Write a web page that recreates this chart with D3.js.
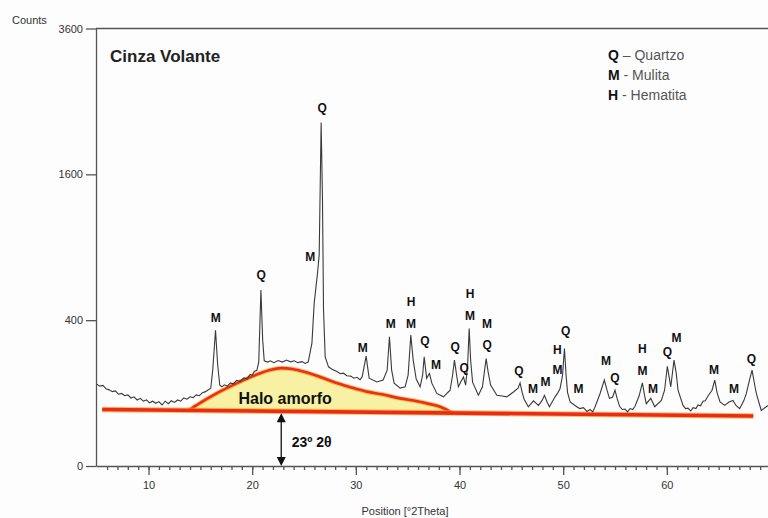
<!DOCTYPE html>
<html>
<head>
<meta charset="utf-8">
<script src="https://cdn.jsdelivr.net/npm/d3@7"></script>
<style>
  body { margin: 0; background: #fdfdfd; }
  svg { display: block; font-family: "Liberation Sans", Arial, sans-serif; }
</style>
</head>
<body>
<div id="chart"></div>
<script>
// Diffractogram: 2theta (deg) and counts
const theta = [
  5.0, 5.3, 5.6, 5.9, 6.2, 6.5, 6.8, 7.1, 7.4, 7.7,
  8.0, 8.3, 8.6, 8.9, 9.2, 9.5, 9.8, 10.1, 10.4, 10.7,
  11.0, 11.3, 11.6, 11.9, 12.2, 12.5, 12.8, 13.1, 13.4, 13.7,
  14.0, 14.3, 14.6, 14.9, 15.2, 15.5, 15.8, 16.0, 16.19, 16.46,
  16.67, 16.87, 17.08, 17.3, 17.59, 17.9, 18.17, 18.5, 18.84, 19.2,
  19.49, 19.8, 20.0, 20.2, 20.45, 20.63, 20.84, 21.01, 21.16, 21.5,
  21.74, 22.1, 22.5, 22.9, 23.3, 23.7, 24.05, 24.4, 24.82, 25.1,
  25.4, 25.76, 25.98, 26.30, 26.46, 26.65, 26.78, 26.88, 27.04, 27.36,
  27.7, 28.17, 28.5, 28.8, 29.13, 29.5, 29.8, 30.10, 30.4, 30.61,
  30.99, 31.28, 32.02, 32.63, 33.02, 33.24, 33.45, 33.69, 34.27, 34.75,
  35.04, 35.30, 35.53, 35.82, 36.20, 36.44, 36.59, 36.83, 37.10, 37.33,
  37.81, 38.45, 39.09, 39.33, 39.51, 39.72, 39.89, 40.15, 40.38, 40.59,
  40.78, 40.93, 41.07, 41.26, 41.82, 42.21, 42.42, 42.57, 42.76, 43.0,
  43.60, 44.11, 44.56, 45.20, 45.65, 45.84, 46.04, 46.23, 46.64, 47.13,
  47.61, 47.97, 48.19, 48.45, 48.67, 49.22, 49.51, 49.70, 49.94, 50.12,
  50.28, 50.42, 50.67, 51.31, 51.6, 51.95, 52.3, 52.59, 52.85, 53.08,
  53.56, 53.97, 54.23, 54.46, 54.76, 55.0, 55.20, 55.44, 55.7, 55.97,
  56.2, 56.45, 56.7, 56.93, 57.32, 57.64, 57.85, 58.02, 58.45, 58.83,
  59.47, 59.78, 60.05, 60.38, 60.69, 60.89, 61.08, 61.56, 61.8, 62.04,
  62.3, 62.53, 62.8, 63.01, 63.25, 63.49, 63.7, 63.97, 64.36, 64.62,
  64.84, 65.13, 65.58, 66.0, 66.38, 66.67, 67.03, 67.44, 67.67, 67.97,
  68.22, 68.41, 68.63, 69.11, 69.76
];
const counts = [
  126, 120, 122, 112, 109, 104, 106, 97, 99, 93,
  95, 87, 90, 82, 86, 79, 82, 75, 79, 74,
  78, 70, 79, 73, 80, 76, 82, 79, 87, 84,
  90, 88, 95, 93, 101, 104, 110, 113, 173, 347,
  191, 123, 118, 124, 120, 130, 127, 138, 135, 146,
  142, 158, 155, 168, 172, 203, 582, 298, 208, 203,
  208, 201, 209, 203, 211, 204, 208, 201, 205, 198,
  203, 284, 499, 700, 837, 2218, 1331, 457, 224, 185,
  176, 168, 160, 162, 153, 152, 145, 148, 140, 150,
  227, 145, 133, 139, 173, 314, 173, 129, 114, 118,
  155, 322, 211, 142, 118, 155, 224, 145, 161, 129,
  99, 90, 108, 155, 211, 155, 118, 135, 149, 123,
  191, 356, 211, 132, 94, 118, 173, 217, 166, 123,
  94, 92, 90, 103, 114, 130, 102, 84, 66, 80,
  69, 81, 94, 77, 66, 90, 102, 113, 155, 260,
  155, 102, 77, 66, 62, 64, 56, 60, 55, 66,
  99, 139, 108, 86, 89, 108, 86, 67, 60, 61,
  55, 62, 60, 67, 92, 130, 94, 73, 86, 66,
  81, 108, 187, 118, 211, 166, 108, 69, 62, 63,
  57, 64, 62, 70, 68, 79, 80, 92, 108, 139,
  102, 77, 69, 77, 81, 69, 62, 81, 99, 139,
  173, 135, 99, 58, 69
];

// Amorphous halo (top edge) and the straight background line
const haloTheta = [13.86, 14.99, 16.43, 17.88, 19.32, 20.77, 21.93, 22.89, 23.86, 25.11,
  26.56, 28.0, 29.45, 30.90, 32.63, 34.27, 35.91, 37.16, 38.13, 39.29];
const haloCounts = [58, 75, 97, 119, 141, 162, 175, 180, 177, 166,
  149, 131, 117, 105, 96, 86, 79, 72, 66, 53];
const baseTheta = [5.53, 68.34];
const baseCounts = [60, 47];

// Phase labels over the peaks
const peakText = ['M', 'Q', 'M', 'Q', 'M', 'M', 'H', 'M', 'Q', 'M',
  'Q', 'Q', 'H', 'M', 'M', 'Q', 'Q', 'M', 'M', 'M',
  'H', 'Q', 'M', 'M', 'Q', 'H', 'M', 'M', 'Q', 'M',
  'M', 'M', 'Q'];
const peakTheta = [16.48, 20.87, 25.59, 26.74, 30.66, 33.36, 35.33, 35.33, 36.65, 37.74,
  39.57, 40.44, 41.02, 41.02, 42.66, 42.66, 45.74, 47.10, 48.30, 49.44,
  49.44, 50.25, 51.47, 54.14, 55.0, 57.64, 57.64, 58.67, 60.05, 60.92,
  64.55, 66.48, 68.15];
const peakCounts = [411, 686, 821, 2412, 261, 379, 505, 379, 293, 191,
  266, 182, 556, 423, 381, 275, 169, 112, 132, 175,
  255, 344, 111, 207, 147, 260, 170, 113, 245, 311,
  175, 113, 217];

const yTicks = [0, 400, 1600, 3600];
const xMajor = [10, 20, 30, 40, 50, 60];
const xMinor = d3.range(6, 70);

const legendKeys = ['Q', 'M', 'H'];
const legendNames = ['– Quartzo', '- Mulita', '- Hematita'];

// halo peak marker
const arrowTheta = 22.8;

const width = 768;
const height = 518;

const svg = d3.select('#chart')
  .append('svg')
  .attr('width', width)
  .attr('height', height);

const x = d3.scaleLinear().domain([4.93, 70]).range([96, 770.5]);
const y = d3.scaleSqrt().domain([0, 3600]).range([466, 28.5]);

// background line, straight in pixel space
const baseY = d3.scaleLinear().domain(baseTheta).range(baseCounts.map(c => y(c)));

// frame top line
svg.append('line')
  .attr('x1', x(4.93)).attr('x2', width)
  .attr('y1', y(3600)).attr('y2', y(3600))
  .attr('stroke', '#555').attr('stroke-width', 1.3);

// axes
svg.append('g')
  .attr('transform', `translate(0,${y(0)})`)
  .call(d3.axisBottom(x).tickValues(xMinor).tickSize(4).tickSizeOuter(0).tickFormat(''));

const xMajorAxis = svg.append('g')
  .attr('transform', `translate(0,${y(0)})`)
  .call(d3.axisBottom(x).tickValues(xMajor).tickSize(9).tickSizeOuter(0).tickPadding(6));
xMajorAxis.select('.domain').remove();

svg.append('g')
  .attr('transform', `translate(${x(4.93)},0)`)
  .call(d3.axisLeft(y).tickValues(yTicks).tickSize(10).tickSizeOuter(0).tickPadding(3)
    .tickFormat(d3.format('d')));

svg.selectAll('.domain, .tick line')
  .attr('stroke', '#555')
  .attr('stroke-width', 1.3);
svg.selectAll('.tick text')
  .attr('fill', '#333')
  .style('font-size', '11px');

svg.append('text')
  .attr('x', 12).attr('y', 24)
  .attr('fill', '#333')
  .style('font-size', '11px')
  .text('Counts');

svg.append('text')
  .attr('x', 405).attr('y', 515)
  .attr('text-anchor', 'middle')
  .attr('fill', '#333')
  .style('font-size', '11px')
  .text('Position [°2Theta]');

// halo
const halo = haloTheta.map((t, i) => ({ t: t, c: haloCounts[i] }));
svg.append('path')
  .datum(halo)
  .attr('fill', '#f8f0a2')
  .attr('d', d3.area().x(d => x(d.t)).y0(d => baseY(d.t)).y1(d => y(d.c)).curve(d3.curveMonotoneX));

const haloLine = d3.line().x(d => x(d.t)).y(d => y(d.c)).curve(d3.curveMonotoneX);
svg.append('path').datum(halo)
  .attr('fill', 'none').attr('stroke', '#f7a21b').attr('stroke-width', 4.5).attr('opacity', 0.7)
  .attr('d', haloLine);
svg.append('path').datum(halo)
  .attr('fill', 'none').attr('stroke', '#e8301c').attr('stroke-width', 2.6)
  .attr('d', haloLine);

// base line
svg.append('line')
  .attr('x1', x(baseTheta[0])).attr('x2', x(baseTheta[1]))
  .attr('y1', y(baseCounts[0])).attr('y2', y(baseCounts[1]))
  .attr('stroke', '#f7a21b').attr('stroke-width', 5.5).attr('opacity', 0.7);
svg.append('line')
  .attr('x1', x(baseTheta[0])).attr('x2', x(baseTheta[1]))
  .attr('y1', y(baseCounts[0])).attr('y2', y(baseCounts[1]))
  .attr('stroke', '#ec2a1a').attr('stroke-width', 3.6);

// pattern, on top of the halo
const pattern = theta.map((t, i) => ({ t: t, c: counts[i] }));
svg.append('path')
  .datum(pattern)
  .attr('fill', 'none')
  .attr('stroke', '#3a3a3a')
  .attr('stroke-width', 1.1)
  .attr('d', d3.line().x(d => x(d.t)).y(d => y(d.c)));

svg.append('text')
  .attr('x', x(18.67)).attr('y', y(86))
  .attr('dy', '0.35em')
  .attr('fill', '#111')
  .style('font-size', '16px')
  .style('font-weight', 'bold')
  .text('Halo amorfo');

// double arrow from the base line down to the axis
const ax = x(arrowTheta);
const aTop = baseY(arrowTheta) + 2;
const aBot = y(0);
svg.append('line')
  .attr('x1', ax).attr('x2', ax)
  .attr('y1', aTop + 6).attr('y2', aBot - 6)
  .attr('stroke', '#111').attr('stroke-width', 1.3);
svg.append('path')
  .attr('fill', '#111')
  .attr('d', `M${ax},${aTop} L${ax - 4.5},${aTop + 9} L${ax + 4.5},${aTop + 9} Z`);
svg.append('path')
  .attr('fill', '#111')
  .attr('d', `M${ax},${aBot} L${ax - 4.5},${aBot - 9} L${ax + 4.5},${aBot - 9} Z`);

svg.append('text')
  .attr('x', x(23.81)).attr('y', y(11))
  .attr('dy', '0.35em')
  .attr('fill', '#111')
  .style('font-size', '14px')
  .style('font-weight', 'bold')
  .text('23º 2θ');

// peak labels
svg.selectAll('.peak')
  .data(peakText)
  .enter().append('text')
  .attr('class', 'peak')
  .attr('x', (d, i) => x(peakTheta[i]))
  .attr('y', (d, i) => y(peakCounts[i]))
  .attr('dy', '0.35em')
  .attr('text-anchor', 'middle')
  .attr('fill', '#111')
  .style('font-size', '12px')
  .style('font-weight', 'bold')
  .text(d => d);

// title and legend
svg.append('text')
  .attr('x', 110).attr('y', 62)
  .attr('fill', '#222')
  .style('font-size', '17px')
  .style('font-weight', 'bold')
  .text('Cinza Volante');

const legend = svg.selectAll('.legend')
  .data(legendKeys)
  .enter().append('text')
  .attr('class', 'legend')
  .attr('x', 608)
  .attr('y', (d, i) => 60 + i * 20)
  .style('font-size', '14px');
legend.append('tspan')
  .attr('fill', '#111')
  .style('font-weight', 'bold')
  .text(d => d);
legend.append('tspan')
  .attr('fill', '#555')
  .text((d, i) => ' ' + legendNames[i]);
</script>
</body>
</html>
